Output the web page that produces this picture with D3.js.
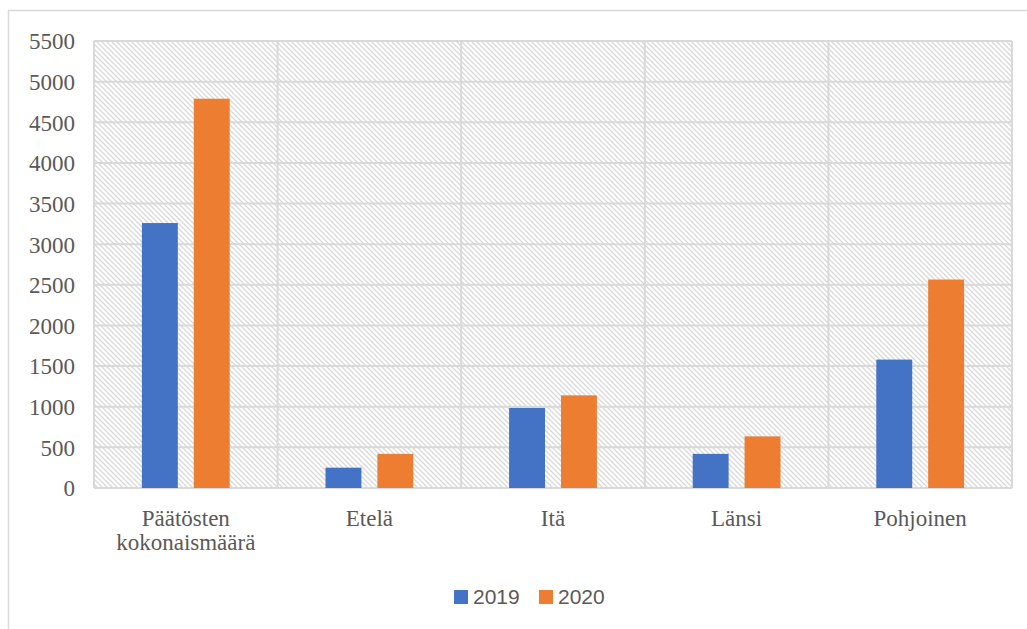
<!DOCTYPE html>
<html>
<head>
<meta charset="utf-8">
<script src="https://cdn.jsdelivr.net/npm/d3@7"></script>
<style>
body { margin: 0; background: #fff; }
svg { display: block; }
</style>
</head>
<body>
<svg id="main" width="1027" height="629"></svg>
<script>
var categories = [["Päätösten", "kokonaismäärä"], ["Etelä"], ["Itä"], ["Länsi"], ["Pohjoinen"]];
var series = ["2019", "2020"];
var values2019 = [3260, 250, 985, 420, 1580];
var values2020 = [4790, 420, 1140, 635, 2565];
var yTicks = [0, 500, 1000, 1500, 2000, 2500, 3000, 3500, 4000, 4500, 5000, 5500];
var colors = ["#4472c4", "#ed7d31"];

var svg = d3.select("#main");
var plotLeft = 94, plotRight = 1012, plotTop = 41, plotBottom = 488;

var defs = svg.append("defs");
var pat = defs.append("pattern").attr("id", "hatch").attr("patternUnits", "userSpaceOnUse")
	.attr("width", 5).attr("height", 5);
pat.append("path").attr("d", "M0,0 L5,5 M-1,4 L1,6 M4,-1 L6,1")
	.attr("stroke", "#d9d9d9").attr("stroke-width", 1.3);

// outer chart frame
svg.append("rect").attr("x", 8.5).attr("y", 10.5).attr("width", 1040).attr("height", 640)
	.attr("fill", "none").attr("stroke", "#d9d9d9").attr("stroke-width", 1.5);

var x0 = d3.scaleBand().domain(d3.range(categories.length)).range([plotLeft, plotRight]).padding(0);
var x1 = d3.scaleBand().domain(series).range([0, x0.bandwidth()]).paddingInner(0.3077).paddingOuter(0.923);
var y = d3.scaleLinear().domain([0, 5500]).range([plotBottom, plotTop]);

svg.append("rect").attr("x", plotLeft).attr("y", plotTop).attr("width", plotRight - plotLeft).attr("height", plotBottom - plotTop)
	.attr("fill", "url(#hatch)");

// grid
svg.append("g").selectAll("line").data(yTicks).enter().append("line")
	.attr("x1", plotLeft).attr("x2", plotRight).attr("y1", function(d) { return y(d); }).attr("y2", function(d) { return y(d); })
	.attr("stroke", "#d9d9d9").attr("stroke-width", 2);
var vb = d3.range(categories.length + 1);
svg.append("g").selectAll("line").data(vb).enter().append("line")
	.attr("x1", function(d) { return plotLeft + d * x0.bandwidth(); }).attr("x2", function(d) { return plotLeft + d * x0.bandwidth(); })
	.attr("y1", plotTop).attr("y2", plotBottom)
	.attr("stroke", "#d9d9d9").attr("stroke-width", 2);

// bars
var data = [values2019, values2020];
series.forEach(function(s, si) {
	svg.append("g").selectAll("rect").data(data[si]).enter().append("rect")
		.attr("x", function(d, i) { return x0(i) + x1(s); })
		.attr("width", x1.bandwidth())
		.attr("y", function(d) { return y(d); })
		.attr("height", function(d) { return y(0) - y(d); })
		.attr("fill", colors[si]);
});

// y axis labels
var yAxis = d3.axisLeft(y).tickValues(yTicks).tickFormat(d3.format("d")).tickSize(0).tickPadding(0);
var ya = svg.append("g").attr("transform", "translate(75,0)").call(yAxis);
ya.select(".domain").remove();
ya.selectAll("text").attr("font-family", "'Liberation Serif', 'Times New Roman', serif")
	.attr("font-size", 23).attr("fill", "#595959").attr("dy", "0.34em");

// category labels
var cl = svg.append("g").selectAll("text").data(categories).enter().append("text")
	.attr("x", function(d, i) { return x0(i) + x0.bandwidth() / 2; })
	.attr("y", 526)
	.attr("text-anchor", "middle")
	.attr("font-family", "'Liberation Serif', 'Times New Roman', serif")
	.attr("font-size", 23).attr("fill", "#595959");
cl.each(function(d, i) {
	var t = d3.select(this);
	d.forEach(function(line, li) {
		t.append("tspan").attr("x", x0(i) + x0.bandwidth() / 2).attr("dy", li == 0 ? 0 : 24).text(line);
	});
});

// legend
var lx = [454, 539];
var lg = svg.append("g");
series.forEach(function(s, si) {
	lg.append("rect").attr("x", lx[si]).attr("y", 590).attr("width", 14).attr("height", 14).attr("fill", colors[si]);
	lg.append("text").attr("x", lx[si] + 19).attr("y", 604).text(s)
		.attr("font-family", "'Liberation Sans', Arial, sans-serif").attr("font-size", 21).attr("fill", "#595959");
});
</script>
</body>
</html>
